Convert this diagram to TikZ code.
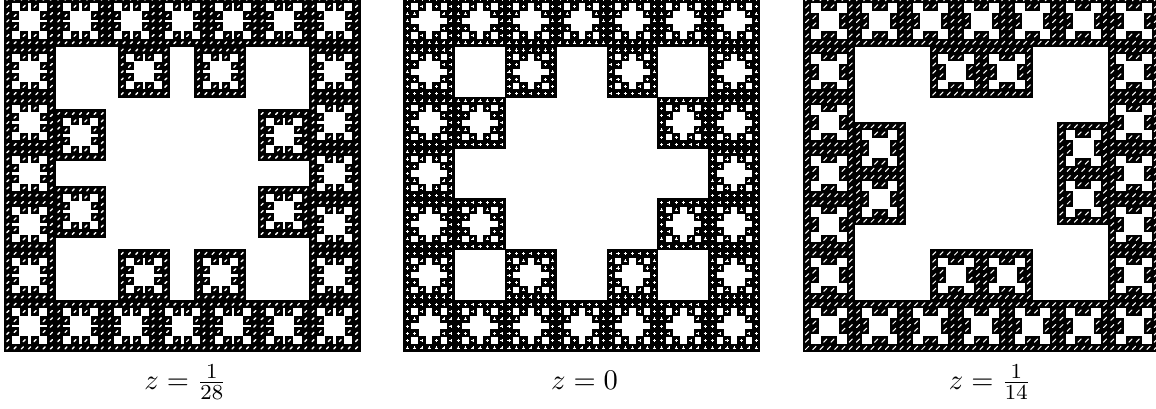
\documentclass[tikz,border=0pt]{standalone}
\newbox\cellbox \newbox\blockbox \newbox\panelA \newbox\panelB \newbox\panelC
\newdimen\psize \psize=142.4pt
\newdimen\cursize \newdimen\cc
\newcount\zn \newcount\zd
% the 32 pieces: column, row, shift in x, shift in y (in units of z)
\def\pieces#1{%
  \def\rowfull##1{#1{0}{##1}{0}{0}#1{1}{##1}{0}{0}#1{2}{##1}{0}{0}#1{3}{##1}{0}{0}#1{4}{##1}{0}{0}#1{5}{##1}{0}{0}#1{6}{##1}{0}{0}}%
  \rowfull{0}\rowfull{6}%
  #1{0}{1}{0}{0}#1{6}{1}{0}{0}#1{0}{2}{0}{0}#1{6}{2}{0}{0}#1{0}{3}{0}{0}#1{6}{3}{0}{0}#1{0}{4}{0}{0}#1{6}{4}{0}{0}#1{0}{5}{0}{0}#1{6}{5}{0}{0}%
  #1{2}{1}{1}{0}#1{4}{1}{-1}{0}#1{2}{5}{1}{0}#1{4}{5}{-1}{0}%
  #1{1}{2}{0}{1}#1{1}{4}{0}{-1}#1{5}{2}{0}{1}#1{5}{4}{0}{-1}%
}
\def\xp#1#2{\dimexpr\cursize*#1/7+\cursize*#2*\zn/\zd\relax}
\def\putbox#1#2#3#4{\rlap{\kern\xp{#1}{#3}\raise\xp{#2}{#4}\copy\curbox}}
\def\fixbox#1#2{\wd#1=#2\relax \ht#1=#2\relax \dp#1=0pt\relax}
% white speck at the centre of each smallest square
\def\slashmark#1#2{\pgfsetroundcap\pgfsetlinewidth{#2}%
  \pgfpathmoveto{\pgfqpoint{\dimexpr\cc-#1\relax}{\dimexpr\cc-#1\relax}}%
  \pgfpathlineto{\pgfqpoint{\dimexpr\cc+#1\relax}{\dimexpr\cc+#1\relax}}%
  \pgfusepath{stroke}}
\def\markA{\slashmark{0.38pt}{0.55pt}}
\def\markC{\slashmark{0.62pt}{0.42pt}}
\def\markB{\pgfpathcircle{\pgfqpoint{\cc}{\cc}}{0.36pt}\pgfusepath{fill}%
  \pgfsetbuttcap\pgfsetlinewidth{0.12pt}%
  \pgfpathmoveto{\pgfqpoint{\dimexpr\cc-0.62pt\relax}{\cc}}\pgfpathlineto{\pgfqpoint{\dimexpr\cc+0.62pt\relax}{\cc}}%
  \pgfpathmoveto{\pgfqpoint{\cc}{\dimexpr\cc-0.62pt\relax}}\pgfpathlineto{\pgfqpoint{\cc}{\dimexpr\cc+0.62pt\relax}}%
  \pgfusepath{stroke}}
\def\buildpanel#1#2#3#4{%
  \zn=#2\relax \zd=#3\relax
  \cursize=\dimexpr\psize/49\relax \cc=\dimexpr\cursize/2\relax
  \setbox\cellbox=\hbox{\pgfpicture
    \pgfpathrectangle{\pgfpointorigin}{\pgfqpoint{\cursize}{\cursize}}\pgfusepath{use as bounding box}%
    \pgfsetlinewidth{0.4pt}\pgfsetmiterjoin
    \pgfpathrectangle{\pgfpointorigin}{\pgfqpoint{\cursize}{\cursize}}\pgfusepath{fill,stroke}%
    \pgfsetstrokecolor{white}\pgfsetfillcolor{white}%
    #4%
    \endpgfpicture}%
  \fixbox\cellbox\cursize
  \let\curbox\cellbox
  \cursize=\dimexpr\psize/7\relax
  \setbox\blockbox=\hbox{\pieces\putbox}%
  \fixbox\blockbox\cursize
  \let\curbox\blockbox
  \cursize=\psize
  \setbox#1=\hbox{\pieces\putbox}%
  \fixbox#1\cursize
}
\AtBeginDocument{\buildpanel\panelA{1}{28}\markA\buildpanel\panelB{0}{1}\markB\buildpanel\panelC{1}{14}\markC}
\newcommand{\fracdig}[1]{\mbox{\fontsize{7.5}{8}\selectfont #1}}
\tikzset{carpet/.style={inner sep=0pt,outer sep=0pt,anchor=south west},
  lab/.style={inner sep=0pt,outer sep=0pt,anchor=base,scale=1.14}}
\begin{document}
\begin{tikzpicture}[x=0.4pt,y=0.4pt]
\useasboundingbox (0,0) rectangle (1156,408);
\clip (0,0) rectangle (1156,408);
\node[carpet] (pa) at (4.2,56.5) {\copy\panelA};
\node[carpet] (pb) at (403.7,56.5) {\copy\panelB};
\node[carpet] (pc) at (803.5,56.5) {\copy\panelC};
\node[lab] (la) at (185.5,18.5) {$z=\frac{\fracdig{1}}{\fracdig{28}}$};
\node[lab] (lb) at (584.5,18.5) {$z=0$};
\node[lab] (lc) at (990,18.5) {$z=\frac{\fracdig{1}}{\fracdig{14}}$};
\end{tikzpicture}
\end{document}
